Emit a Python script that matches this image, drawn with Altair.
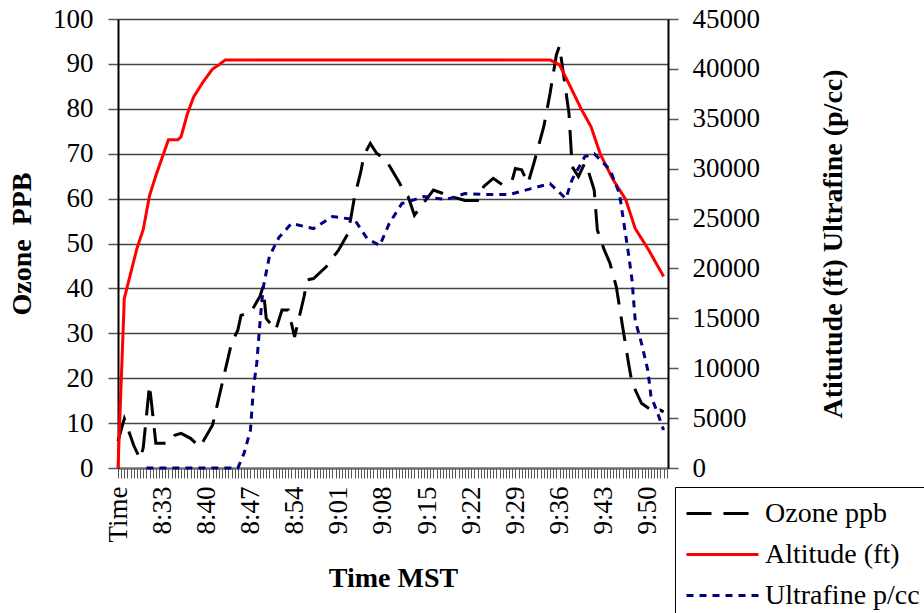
import altair as alt
import pandas as pd

# ---------------- data ----------------
x_labels = ['Time', '8:33', '8:40', '8:47', '8:54', '9:01', '9:08', '9:15',
            '9:22', '9:29', '9:36', '9:43', '9:50']
label_step = 14          # one label every 14 categories (30 s each)
last_cat = 174

series_names = ['Ozone ppb', 'Altitude (ft)', 'Ultrafine p/cc']

ozone_cat = [0, 2, 5, 7, 8, 10, 12, 16, 18, 20, 23, 26, 30, 34, 36, 38, 39, 42,
             45, 46, 47, 50, 52, 54, 56, 59, 60, 62, 66, 70, 73, 75, 77, 78, 80,
             82, 85, 89, 91, 92, 94, 96, 100, 106, 110, 114, 116, 119, 122, 125,
             126, 128, 130, 132, 135, 137, 139, 140, 143, 144, 146, 148, 149,
             151, 152, 154, 156, 158, 160, 162, 163, 166, 170, 172, 173]
ozone_ppb = [6, 11, 5, 2, 4.5, 18.5, 5.5, 5.5, 7.3, 7.7, 6.6, 4.7, 9.6, 21.8,
             27.8, 30.7, 34, 34.6, 38.2, 40.4, 33.3, 30.7, 35.2, 35.2, 29.2,
             38.2, 41.9, 42.2, 44.8, 48.6, 52.3, 60.4, 66, 69.7, 72.3, 70.1,
             68.6, 63.8, 61.2, 60.4, 56.3, 58.2, 61.9, 60.4, 59.6, 59.6, 62.7,
             64.5, 63, 64.1, 66.7, 66.4, 63.4, 68.2, 76, 83.4, 92, 94, 79, 67.1,
             64.9, 67.9, 66.4, 61.9, 53, 48.9, 45.6, 40.4, 31.5, 22.9, 18.9,
             14.4, 12.5, 12.9, 12.5]

altitude_cat = [0, 2, 6, 8, 10, 12, 16, 19, 20, 22, 24, 27, 30, 32, 34, 137,
                140, 143, 147, 150, 153, 157, 161, 164, 168, 173]
altitude_ft = [0, 17000, 22000, 23900, 27300, 29300, 32900, 32900, 33200,
               35500, 37200, 38700, 40000, 40400, 40900, 40900, 40400, 38500,
               35900, 34200, 31400, 28900, 26900, 24000, 22000, 19200]

ultrafine_cat = [9, 38, 40, 42, 43, 44, 45, 46, 48, 51, 55, 62, 68, 75, 79, 83,
                 86, 90, 94, 97, 104, 110, 117, 124, 131, 137, 142, 144, 148,
                 151, 156, 159, 161, 162, 163, 164, 166, 168, 169, 171, 173]
ultrafine_pcc = [0, 0, 1500, 3800, 8200, 10500, 14500, 18000, 21200, 23100,
                 24500, 24000, 25200, 24900, 23000, 22300, 24500, 26500, 26900,
                 27200, 26900, 27500, 27400, 27400, 28000, 28500, 27000, 28900,
                 31200, 31500, 29900, 27500, 23300, 21200, 18800, 14800, 12500,
                 9800, 7200, 5600, 3800]

left_ticks = list(range(0, 101, 10))
right_ticks = list(range(0, 45001, 5000))

# ---------------- tables ----------------
df_left = pd.DataFrame({'cat': ozone_cat, 'value': ozone_ppb,
                        'series': series_names[0]})
df_right = pd.concat([
    pd.DataFrame({'cat': altitude_cat, 'value': altitude_ft,
                  'series': series_names[1]}),
    pd.DataFrame({'cat': ultrafine_cat, 'value': ultrafine_pcc,
                  'series': series_names[2]}),
], ignore_index=True)

FONT = 'Liberation Serif'
TICK_FS = 27
TITLE_FS = 28

label_js = '[' + ','.join("'" + s + "'" for s in x_labels) + ']'
label_expr = (f"datum.value % {label_step} == 0 && datum.value / {label_step} < {len(x_labels)}"
              f" ? {label_js}[datum.value / {label_step}] : ''")

x_enc = alt.X(
    'cat:Q',
    scale=alt.Scale(domain=[0, 174.4], nice=False, zero=False),
    axis=alt.Axis(
        values=list(range(0, last_cat + 1)), labelExpr=label_expr,
        labelAngle=270, labelOverlap=False, labelFlush=False, labelBound=False,
        labelFont=FONT, labelFontSize=TICK_FS, labelColor='black', labelPadding=8,
        tickSize=10, tickColor='#555555', tickWidth=1,
        domainColor='#666666', domainWidth=2, grid=False,
        title='Time MST', titleFont=FONT, titleFontSize=TITLE_FS,
        titleFontWeight='bold', titleColor='black',
        titleX=275, titleY=110, titleAlign='center', titleBaseline='middle',
    ),
)

y_left = alt.Y(
    'value:Q',
    scale=alt.Scale(domain=[0, 100], nice=False),
    axis=alt.Axis(
        values=left_ticks, grid=True, gridColor='#444444', gridWidth=1.5,
        tickSize=10, tickColor='#555555', tickWidth=1.5,
        domainColor='black', domainWidth=2,
        labelFont=FONT, labelFontSize=TICK_FS, labelColor='black', labelPadding=15,
        title='Ozone\u00a0 PPB', titleFont=FONT, titleFontSize=TITLE_FS,
        titleFontWeight='bold', titleColor='black', titleAngle=270,
        titleX=-96, titleY=224.5, titleAlign='center', titleBaseline='middle',
    ),
)

y_right = alt.Y(
    'value:Q',
    scale=alt.Scale(domain=[0, 45000], nice=False),
    axis=alt.Axis(
        orient='right', values=right_ticks, format='d', grid=False,
        tickSize=10, tickColor='#555555', tickWidth=1.5,
        domainColor='black', domainWidth=2,
        labelFont=FONT, labelFontSize=TICK_FS, labelColor='black', labelPadding=14,
        title='Atitutude (ft) Ultrafine (p/cc)', titleFont=FONT,
        titleFontSize=TITLE_FS, titleFontWeight='bold', titleColor='black',
        titleAngle=270, titleX=165, titleY=224.5, titleAlign='center',
        titleBaseline='middle',
    ),
)

# symbol: a horizontal line 2.4x the nominal size on each side (72 px long)
legend = alt.Legend(
    title=None, orient='none', legendX=557, legendY=468,
    symbolType='M-2.4,0H2.4', symbolSize=900, symbolStrokeWidth=3,
    symbolOffset=21,
    labelFont=FONT, labelFontSize=28, labelColor='black', labelOffset=26,
    strokeColor='black', fillColor='white', padding=10, rowPadding=10,
)

color_enc = alt.Color('series:N',
                      scale=alt.Scale(domain=series_names,
                                      range=['#000000', '#ff0000', '#000080']),
                      legend=legend)
dash_enc = alt.StrokeDash('series:N',
                          scale=alt.Scale(domain=series_names,
                                          range=[[25, 12], [1, 0], [7, 6]]),
                          legend=legend)

left = alt.Chart(df_left).mark_line(strokeWidth=3, strokeCap='butt').encode(
    x=x_enc, y=y_left, color=color_enc, strokeDash=dash_enc,
    order='cat:Q')

right = alt.Chart(df_right).mark_line(strokeWidth=3, strokeCap='butt').encode(
    x=x_enc, y=y_right, color=color_enc, strokeDash=dash_enc,
    order='cat:Q')

chart = alt.layer(left, right).resolve_scale(y='independent').properties(
    width=550, height=449,
    autosize=alt.AutoSizeParams(type='none'),
    padding={'left': 118, 'top': 19, 'right': 256, 'bottom': 145},
    background='white',
).configure_view(stroke='transparent')

chart.save('out.html', embed_options={'renderer': 'svg', 'actions': False})
